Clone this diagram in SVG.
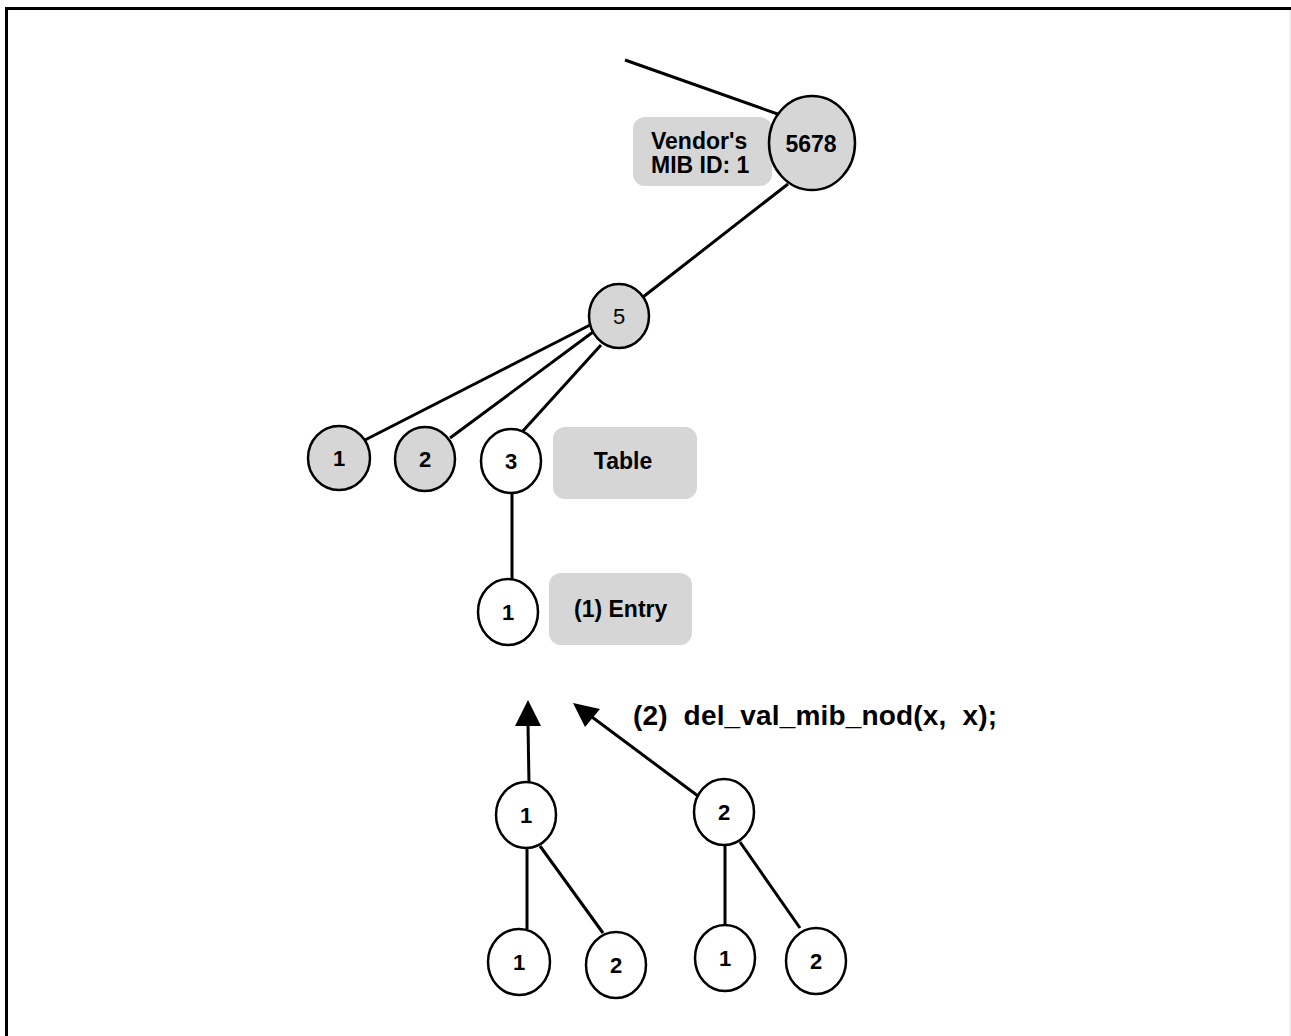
<svg xmlns="http://www.w3.org/2000/svg" width="1291" height="1036" viewBox="0 0 1291 1036">
<defs>
<style>
.n{stroke:#000;stroke-width:2.5}
.g{fill:#d6d6d6}
.w{fill:#fff}
.lbl{fill:#d6d6d6}
.t{font-family:"Liberation Sans",Arial,sans-serif;font-weight:bold;font-size:22px;fill:#000;text-anchor:middle}
.big{font-size:23px}
.e{stroke:#000;stroke-width:3;fill:none}
</style>
</defs>
<rect width="1291" height="1036" fill="#fff"/>
<g id="frame">
<line x1="5" y1="8.5" x2="1291" y2="8.5" stroke="#000" stroke-width="3"/>
<line x1="6.5" y1="7" x2="6.5" y2="1036" stroke="#000" stroke-width="3"/>
<line x1="1290" y1="10" x2="1290" y2="1036" stroke="#ddd" stroke-width="1"/>
</g>
<g id="connectors">
<line class="e" x1="625" y1="60" x2="786" y2="117"/>
<line class="e" x1="788" y1="184" x2="643" y2="297"/>
<line class="e" x1="590" y1="325" x2="365" y2="440"/>
<line class="e" x1="593" y1="332" x2="450" y2="438"/>
<line class="e" x1="601" y1="345" x2="522" y2="432"/>
<line class="e" x1="512" y1="493" x2="512" y2="579"/>
<line class="e" x1="529" y1="784" x2="528" y2="724"/>
<path d="M515,726 L528,700 L541,726 z" fill="#000"/>
<line class="e" x1="698" y1="796" x2="592" y2="717"/>
<path d="M573,703 L600,709 L585,727 z" fill="#000"/>
<line class="e" x1="527" y1="848" x2="527" y2="929"/>
<line class="e" x1="540" y1="846" x2="603" y2="933"/>
<line class="e" x1="725" y1="845" x2="725" y2="926"/>
<line class="e" x1="740" y1="842" x2="800" y2="928"/>
</g>
<g id="vendor-label">
<rect class="lbl" x="633" y="117" width="139" height="69" rx="12"/>
<text class="t big" x="651" y="149" style="text-anchor:start">Vendor's</text>
<text class="t big" x="651" y="173" style="text-anchor:start">MIB ID: 1</text>
</g>
<g id="n5678">
<ellipse class="n g" cx="812" cy="143" rx="43" ry="47"/>
<text class="t big" x="811" y="152">5678</text>
</g>
<g id="n5">
<ellipse class="n g" cx="619" cy="316" rx="30" ry="32"/>
<text class="t" x="619" y="324" style="font-weight:normal;font-size:22px">5</text>
</g>
<g id="n1">
<ellipse class="n g" cx="339" cy="458" rx="31" ry="32"/>
<text class="t" x="339" y="466">1</text>
</g>
<g id="n2">
<ellipse class="n g" cx="425" cy="459" rx="30" ry="32"/>
<text class="t" x="425" y="467">2</text>
</g>
<g id="n3">
<ellipse class="n w" cx="511" cy="461" rx="30" ry="32"/>
<text class="t" x="511" y="469">3</text>
</g>
<g id="table-label">
<rect class="lbl" x="553" y="427" width="144" height="72" rx="12"/>
<text class="t big" x="623" y="469">Table</text>
</g>
<g id="entry">
<ellipse class="n w" cx="508" cy="612" rx="30" ry="33"/>
<text class="t" x="508" y="620">1</text>
</g>
<g id="entry-label">
<rect class="lbl" x="549" y="573" width="143" height="72" rx="12"/>
<text class="t big" x="574" y="617" style="text-anchor:start">(1) Entry</text>
</g>
<g id="call-label">
<text class="t" x="633" y="725" xml:space="preserve" style="font-size:28px;text-anchor:start;white-space:pre" textLength="364" lengthAdjust="spacing">(2)  del_val_mib_nod(x,  x);</text>
</g>
<g id="r1">
<ellipse class="n w" cx="526" cy="815" rx="30" ry="33"/>
<text class="t" x="526" y="823">1</text>
</g>
<g id="r2">
<ellipse class="n w" cx="724" cy="812" rx="30" ry="33"/>
<text class="t" x="724" y="820">2</text>
</g>
<g id="r1c1">
<ellipse class="n w" cx="519" cy="962" rx="31" ry="33"/>
<text class="t" x="519" y="970">1</text>
</g>
<g id="r1c2">
<ellipse class="n w" cx="616" cy="965" rx="30" ry="33"/>
<text class="t" x="616" y="973">2</text>
</g>
<g id="r2c1">
<ellipse class="n w" cx="725" cy="958" rx="30" ry="33"/>
<text class="t" x="725" y="966">1</text>
</g>
<g id="r2c2">
<ellipse class="n w" cx="816" cy="961" rx="30" ry="33"/>
<text class="t" x="816" y="969">2</text>
</g>
</svg>
